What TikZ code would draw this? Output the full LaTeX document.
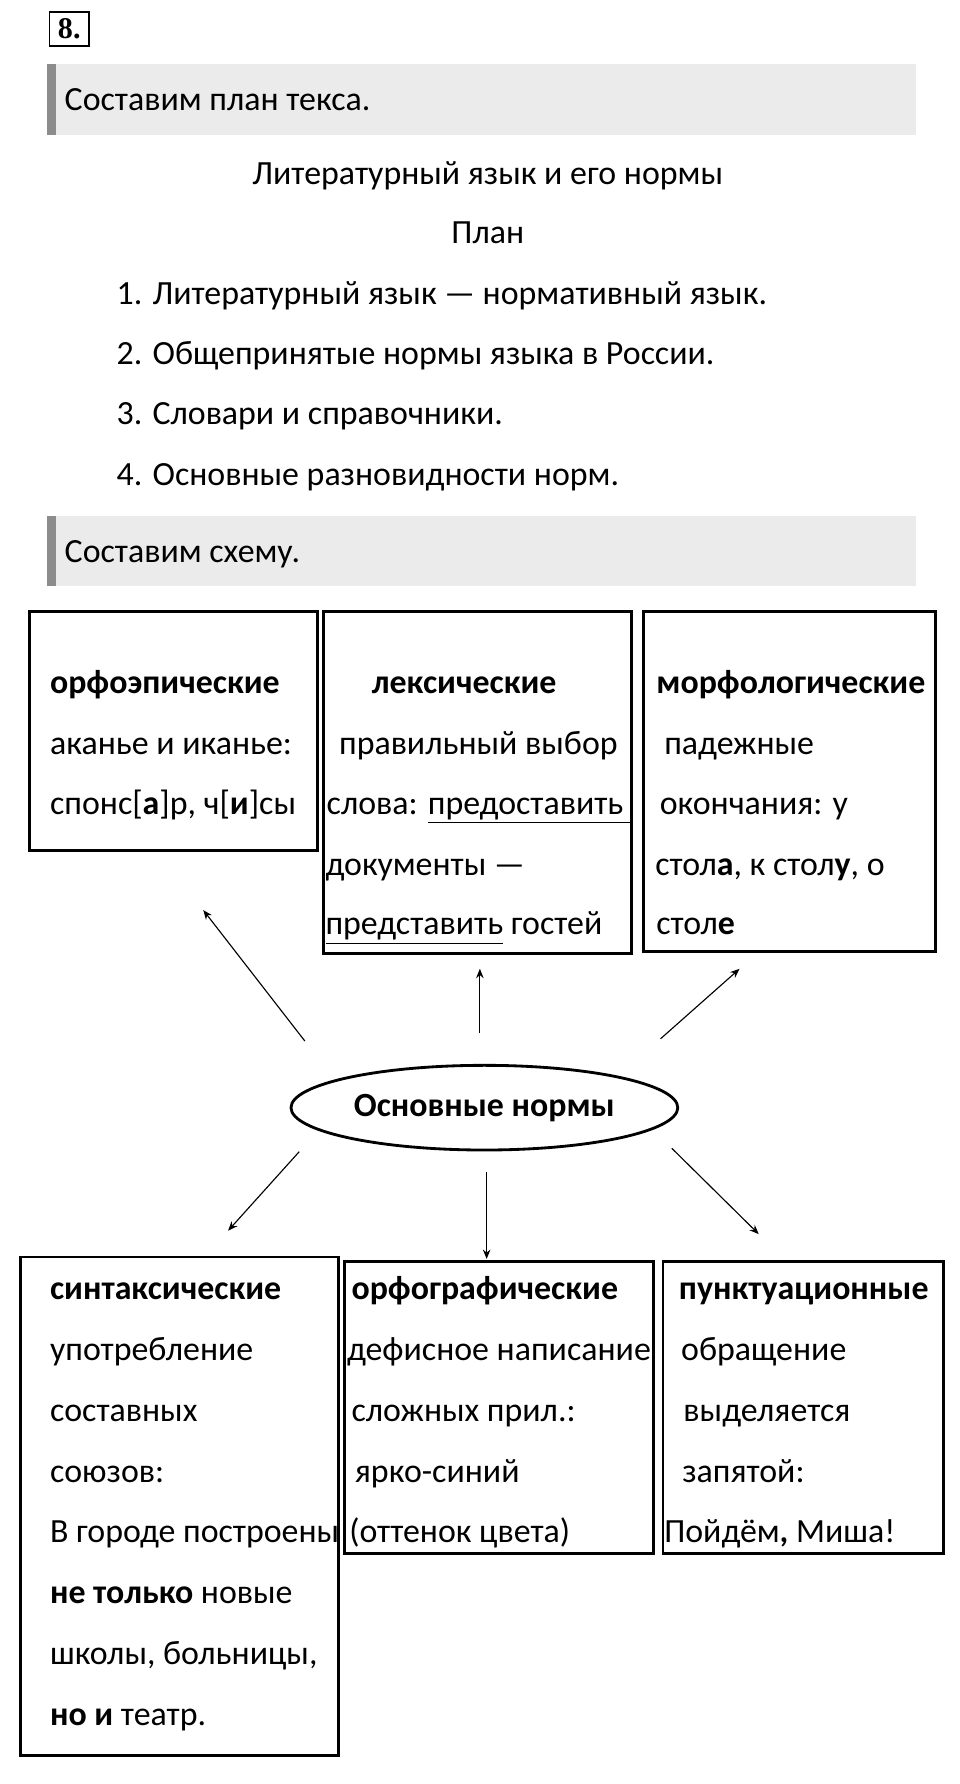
\documentclass[tikz,border=0pt]{standalone}
\usepackage{fontspec}
\setmainfont{Carlito}
\usetikzlibrary{arrows.meta,positioning,shapes.geometric}
\tikzset{box/.style={draw, line width=1.5pt, anchor=north west, inner sep=0pt}}
\tikzset{txt/.style={anchor=base west, inner sep=0pt, font=\fontsize{18}{20}\selectfont}}
\tikzset{arr/.style={draw, -{Stealth[length=5pt,width=4pt]}, line width=0.6pt}}
\tikzset{band/.style={fill=black!8, draw=none}}
\newcommand{\bx}[1]{\textbf{#1}}

\begin{document}
\begin{tikzpicture}[x=0.6pt,y=-0.6pt]
		\useasboundingbox (0,0) rectangle (850,1580);
		% header
		\node[draw, line width=1pt, minimum width=21pt, minimum height=18pt, anchor=north west, font=\fontsize{16}{16}\selectfont\bfseries] (num) at (43,10){\fontspec{Liberation Serif}8.};
		\fill[band] (42,57) rectangle (811,120);
		\fill[black!45] (42,57) rectangle (50,120);
		\node[txt] (t1) at (57,98){Составим план текса.};
		\node[txt, anchor=base] (title) at (432,163){Литературный язык и его нормы};
		\node[txt, anchor=base] (plan) at (432,216){План};
		\node[txt] (p1) at (103,270){1. Литературный язык — нормативный язык.};
		\node[txt] (p2) at (103,323){2. Общепринятые нормы языка в России.};
		\node[txt] (p3) at (103,376){3. Словари и справочники.};
		\node[txt] (p4) at (103,430){4. Основные разновидности норм.};
		\fill[band] (42,457) rectangle (811,519);
		\fill[black!45] (42,457) rectangle (50,519);
		\node[txt] (t2) at (57,498){Составим схему.};
		
		% upper boxes
		\node[box, minimum width=153pt, minimum height=127pt] (orfo) at (25,540){};
		\node[box, minimum width=164pt, minimum height=182pt] (lex) at (285,540){};
		\node[box, minimum width=155pt, minimum height=181pt] (morf) at (569,540){};
		\node[txt] at (44,614){\bx{орфоэпические}};
		\node[txt] at (44,668){аканье и иканье:};
		\node[txt] at (44,721){спонс[\bx{а}]р, ч[\bx{и}]сы};
		\node[txt] at (329,614){\bx{лексические}};
		\node[txt] at (300,668){правильный выбор};
		\node[txt] at (289,721){слова: \underline{предоставить\ }};
		\node[txt] at (288,775){документы —};
		\node[txt] at (288,828){\underline{представить} гостей};
		\node[txt] at (581,614){\bx{морфологические}};
		\node[txt] at (588,668){падежные};
		\node[txt] at (584,721){окончания: у};
		\node[txt] at (580,775){стол\bx{а}, к стол\bx{у}, о};
		\node[txt] at (581,828){стол\bx{е}};
		
		% centre
		\node[draw, ellipse, line width=1.5pt, minimum width=205pt, minimum height=45pt, font=\fontsize{18}{20}\selectfont\bfseries] (norm) at (429,981){Основные нормы};
		
		% lower boxes
		\node[box, minimum width=169pt, minimum height=265pt] (sint) at (17,1112){};
		\node[box, minimum width=164pt, minimum height=155pt] (orfog) at (304,1116){};
		\node[box, minimum width=149pt, minimum height=155pt] (punkt) at (586,1116){};
		\node[txt] at (44,1151){\bx{синтаксические}};
		\node[txt] at (44,1205){употребление};
		\node[txt] at (44,1259){составных};
		\node[txt] at (44,1313){союзов:};
		\node[txt] at (44,1366){В городе построены};
		\node[txt] at (44,1420){\bx{не только} новые};
		\node[txt] at (44,1474){школы, больницы,};
		\node[txt] at (44,1528){\bx{но и} театр.};
		\node[txt] at (311,1151){\bx{орфографические}};
		\node[txt] at (307,1205){дефисное написание};
		\node[txt] at (311,1259){сложных прил.:};
		\node[txt] at (314,1313){ярко-синий};
		\node[txt] at (309,1366){(оттенок цвета)};
		\node[txt] at (601,1151){\bx{пунктуационные}};
		\node[txt] at (603,1205){обращение};
		\node[txt] at (605,1259){выделяется};
		\node[txt] at (604,1313){запятой:};
		\node[txt] at (588,1366){Пойдём\bx{,} Миша!};
		
		% arrows
		\coordinate (a1s) at (270,922); \coordinate (a1e) at (180,806);
		\coordinate (a2s) at (425,915); \coordinate (a2e) at (425,858);
		\coordinate (a3s) at (585,920); \coordinate (a3e) at (655,858);
		\coordinate (a4s) at (265,1020); \coordinate (a4e) at (202,1090);
		\coordinate (a5s) at (431,1038); \coordinate (a5e) at (431,1115);
		\coordinate (a6s) at (595,1017); \coordinate (a6e) at (672,1093);
		\draw[arr] (a1s) -- (a1e);
		\draw[arr] (a2s) -- (a2e);
		\draw[arr] (a3s) -- (a3e);
		\draw[arr] (a4s) -- (a4e);
		\draw[arr] (a5s) -- (a5e);
		\draw[arr] (a6s) -- (a6e);
	\end{tikzpicture}
\end{document}
